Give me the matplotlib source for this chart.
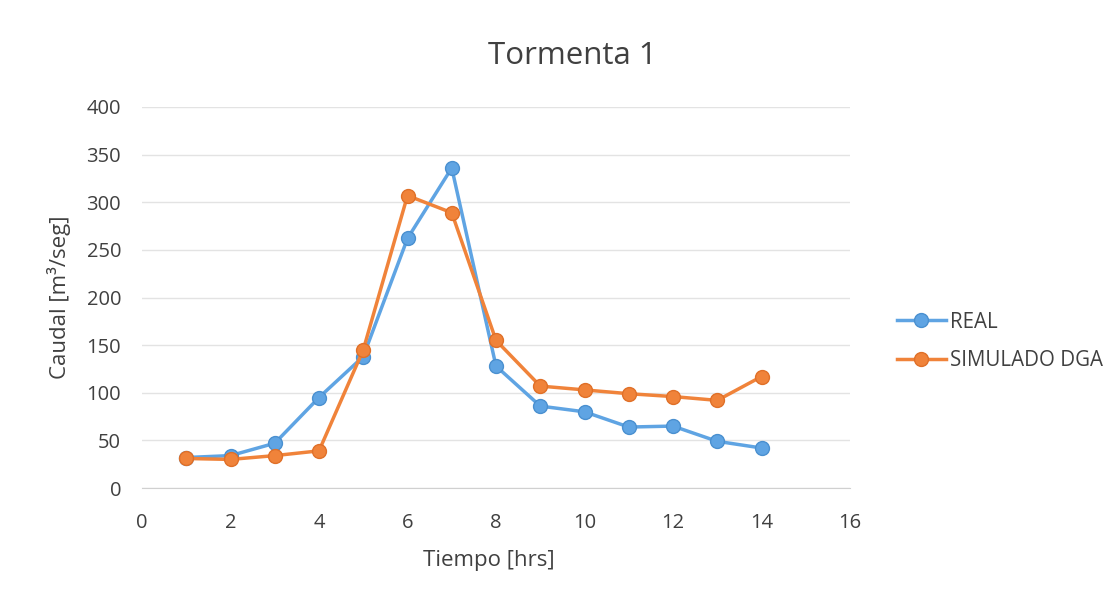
import matplotlib
matplotlib.use("Agg")
import matplotlib.pyplot as plt

plt.rcParams['font.family'] = ['Open Sans', 'DejaVu Sans']

tiempo = [1, 2, 3, 4, 5, 6, 7, 8, 9, 10, 11, 12, 13, 14]
real = [32, 34, 47, 95, 138, 262, 336, 128, 86, 80, 64, 65, 49, 42]
simulado = [31, 30, 34, 39, 145, 307, 289, 155, 107, 103, 99, 96, 92, 117]

x_ticks = [0, 2, 4, 6, 8, 10, 12, 14, 16]
y_ticks = [0, 50, 100, 150, 200, 250, 300, 350, 400]

blue = '#5FA4E3'
orange = '#F0833A'
text_color = '#404040'

fig = plt.figure(figsize=(11.19, 6.02), dpi=100)
ax = fig.add_axes([142 / 1119, 1 - 488 / 602, (850 - 142) / 1119, (488 - 107) / 602])

ax.plot(tiempo, real, color=blue, lw=2.5, marker='o', ms=10,
        markerfacecolor=blue, markeredgecolor='#4A90D0', mew=1, label='REAL', zorder=3)
ax.plot(tiempo, simulado, color=orange, lw=2.5, marker='o', ms=10,
        markerfacecolor=orange, markeredgecolor='#E07028', mew=1, label='SIMULADO DGA', zorder=4)

ax.set_xlim(0, 16)
ax.set_ylim(0, 400)
ax.set_xticks(x_ticks)
ax.set_yticks(y_ticks)
ax.tick_params(length=0, labelsize=14.5, labelcolor=text_color)
ax.tick_params(axis='x', pad=18)
ax.tick_params(axis='y', pad=15)
ax.grid(axis='y', color='#E3E3E3', lw=1)
ax.set_axisbelow(True)
for side in ['top', 'right', 'left']:
    ax.spines[side].set_visible(False)
ax.spines['bottom'].set_color('#D0D0D0')

ax.set_xlabel('Tiempo [hrs]', fontsize=16, color=text_color)
ax.set_ylabel('Caudal [m³/seg]', fontsize=16, color=text_color)
ax.xaxis.set_label_coords(0.49, -0.162)
ax.yaxis.set_label_coords(-0.1, 0.5)
fig.text(572 / 1119, 1 - 56 / 602, 'Tormenta 1', ha='center', va='center',
         fontsize=22.5, color=text_color)

leg = ax.legend(loc='center left', bbox_to_anchor=(1.04, 0.385), frameon=False,
                fontsize=14.8, handlelength=2.4, labelspacing=0.85, handletextpad=0.2,
                labelcolor=text_color)

fig.savefig('out.png', dpi=100, facecolor='white')
